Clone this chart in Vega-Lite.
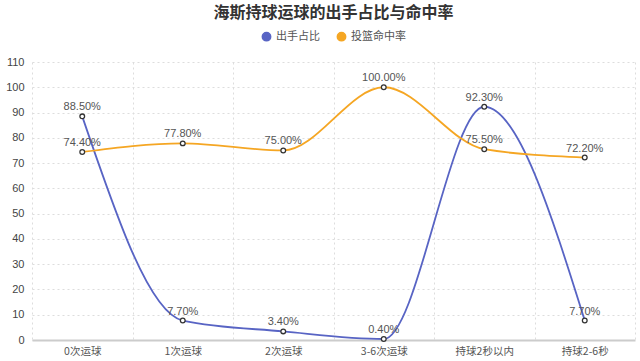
{
  "$schema": "https://vega.github.io/schema/vega-lite/v6.json",
  "width": 640,
  "height": 361,
  "autosize": {"type": "fit", "contains": "padding"},
  "padding": {"left": 5, "right": 5, "top": 5, "bottom": 4},
  "background": "white",
  "title": {"text": "海斯持球运球的出手占比与命中率", "fontSize": 16, "fontWeight": "bold", "color": "#333", "font": "Noto Sans CJK SC", "anchor": "middle", "offset": 10},
  "data": {"values": [
    {"cat": "0次运球", "series": "出手占比", "value": 88.5},
    {"cat": "1次运球", "series": "出手占比", "value": 7.7},
    {"cat": "2次运球", "series": "出手占比", "value": 3.4},
    {"cat": "3-6次运球", "series": "出手占比", "value": 0.4},
    {"cat": "持球2秒以内", "series": "出手占比", "value": 92.3},
    {"cat": "持球2-6秒", "series": "出手占比", "value": 7.7},
    {"cat": "0次运球", "series": "投篮命中率", "value": 74.4},
    {"cat": "1次运球", "series": "投篮命中率", "value": 77.8},
    {"cat": "2次运球", "series": "投篮命中率", "value": 75.0},
    {"cat": "3-6次运球", "series": "投篮命中率", "value": 100.0},
    {"cat": "持球2秒以内", "series": "投篮命中率", "value": 75.5},
    {"cat": "持球2-6秒", "series": "投篮命中率", "value": 72.2}
  ]},
  "transform": [{"calculate": "format(datum.value, '.2f') + '%'", "as": "label"}],
  "encoding": {
    "x": {"field": "cat", "type": "nominal", "sort": ["0次运球", "1次运球", "2次运球", "3-6次运球", "持球2秒以内", "持球2-6秒"], "scale": {"type": "band", "paddingInner": 0, "paddingOuter": 0}, "bandPosition": 0.5,
      "axis": {"title": null, "labelAngle": 0, "tickBand": "extent", "ticks": false, "grid": true, "gridDash": [2, 3], "gridColor": "#ddd", "domainColor": "#ccc", "domainWidth": 2, "labelColor": "#555", "labelFont": "Noto Sans CJK SC", "labelFontSize": 10.5, "labelPadding": 6}},
    "y": {"field": "value", "type": "quantitative", "scale": {"domain": [0, 110]},
      "axis": {"title": null, "values": [0, 10, 20, 30, 40, 50, 60, 70, 80, 90, 100, 110], "domain": false, "ticks": false, "gridDash": [2, 3], "gridColor": "#ddd", "labelColor": "#444", "labelFontSize": 11, "labelPadding": 8}},
    "color": {"field": "series", "type": "nominal", "scale": {"domain": ["出手占比", "投篮命中率"], "range": ["#5864c4", "#f5a623"]},
      "legend": {"title": null, "orient": "top", "direction": "horizontal", "symbolType": "circle", "symbolSize": 70, "labelFont": "Noto Sans CJK SC", "labelFontSize": 11, "labelColor": "#555", "columnPadding": 14, "offset": 18}}
  },
  "layer": [
    {"mark": {"type": "line", "interpolate": "monotone", "strokeWidth": 1.8}},
    {"mark": {"type": "point", "filled": true, "fill": "white", "stroke": "#333", "strokeWidth": 1.3, "size": 22, "opacity": 1}},
    {"mark": {"type": "text", "dy": -9, "fontSize": 11, "color": "#555", "font": "Liberation Sans"}, "encoding": {"text": {"field": "label"}, "color": {"value": "#555"}}}
  ],
  "config": {"view": {"stroke": null}, "legend": {"layout": {"top": {"anchor": "middle"}}}}
}
